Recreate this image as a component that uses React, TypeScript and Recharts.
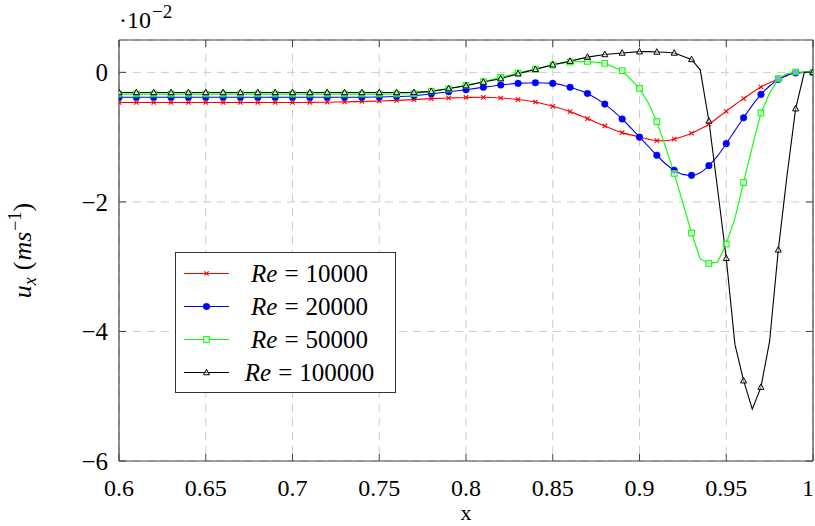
import React from 'react';
import { LineChart, Line, XAxis, YAxis, CartesianGrid, Legend } from 'recharts';

// x positions (0.01 steps up to 0.9, then 0.005 steps)
const xs = [
  0.6, 0.61, 0.62, 0.63, 0.64, 0.65, 0.66, 0.67, 0.68, 0.69,
  0.7, 0.71, 0.72, 0.73, 0.74, 0.75, 0.76, 0.77, 0.78, 0.79,
  0.8, 0.81, 0.82, 0.83, 0.84, 0.85, 0.86, 0.87, 0.88, 0.89,
  0.9, 0.905, 0.91, 0.915, 0.92, 0.925, 0.93, 0.935, 0.94, 0.945,
  0.95, 0.955, 0.96, 0.965, 0.97, 0.975, 0.98, 0.985, 0.99, 0.995, 1.0,
];

// u_x values in units of 1e-2 m/s
const re10000 = [
  -0.465, -0.465, -0.465, -0.465, -0.465, -0.465, -0.465, -0.465, -0.465, -0.465,
  -0.465, -0.463, -0.46, -0.456, -0.45, -0.442, -0.432, -0.42, -0.405, -0.395,
  -0.387, -0.385, -0.395, -0.42, -0.457, -0.524, -0.606, -0.714, -0.827, -0.93,
  -0.997, -1.03, -1.053, -1.055, -1.03, -0.99, -0.94, -0.875, -0.8, -0.7,
  -0.6, -0.5, -0.405, -0.31, -0.226, -0.16, -0.103, -0.05, -0.005, 0.0, 0.0,
];

const re20000 = [
  -0.385, -0.385, -0.385, -0.385, -0.385, -0.385, -0.385, -0.385, -0.385, -0.385,
  -0.385, -0.385, -0.385, -0.385, -0.383, -0.38, -0.373, -0.36, -0.33, -0.3,
  -0.267, -0.23, -0.195, -0.17, -0.16, -0.17, -0.23, -0.325, -0.49, -0.72,
  -1.0, -1.14, -1.28, -1.41, -1.51, -1.575, -1.59, -1.55, -1.44, -1.29,
  -1.1, -0.9, -0.7, -0.51, -0.34, -0.21, -0.108, -0.045, -0.01, 0.0, 0.0,
];

const re50000 = [
  -0.335, -0.335, -0.335, -0.335, -0.335, -0.335, -0.335, -0.335, -0.335, -0.335,
  -0.335, -0.335, -0.335, -0.335, -0.335, -0.335, -0.333, -0.33, -0.29, -0.257,
  -0.2, -0.144, -0.077, -0.01, 0.05, 0.113, 0.16, 0.17, 0.14, 0.026,
  -0.247, -0.47, -0.76, -1.15, -1.56, -2.02, -2.48, -2.88, -2.95, -2.93,
  -2.65, -2.25, -1.7, -1.15, -0.627, -0.32, -0.097, -0.02, 0.005, 0.0, 0.0,
];

const re100000 = [
  -0.31, -0.31, -0.31, -0.31, -0.31, -0.31, -0.31, -0.31, -0.31, -0.31,
  -0.31, -0.31, -0.31, -0.31, -0.31, -0.31, -0.31, -0.308, -0.293, -0.25,
  -0.205, -0.149, -0.097, -0.02, 0.046, 0.119, 0.174, 0.236, 0.277, 0.3,
  0.32, 0.32, 0.315, 0.31, 0.3, 0.25, 0.2, 0.04, -0.75, -1.8,
  -2.87, -4.2, -4.76, -5.2, -4.86, -4.15, -2.74, -1.6, -0.56, 0.0, 0.0,
];

const xTicks = [0.6, 0.65, 0.7, 0.75, 0.8, 0.85, 0.9, 0.95, 1.0];
const xTickLabels = ['0.6', '0.65', '0.7', '0.75', '0.8', '0.85', '0.9', '0.95', '1'];
const yTicks = [-6, -4, -2, 0];
const yTickLabels = ['\u22126', '\u22124', '\u22122', '0'];
const reNumbers = ['10000', '20000', '50000', '100000'];

const data = xs.map((x, i) => ({
  x,
  r1: re10000[i],
  r2: re20000[i],
  r3: re50000[i],
  r4: re100000[i],
}));

const FONT = '"Liberation Serif", "Times New Roman", serif';
const AXIS = '#444';
const TICK_LEN = 7;
const CHART_W = 815;

const findLabel = (ticks: number[], labels: string[], v: number) => {
  const i = ticks.findIndex((t) => Math.abs(t - v) < 1e-9);
  return i >= 0 ? labels[i] : String(v);
};

const XTickBottom = (props: any) => {
  const { x, y, payload } = props;
  const label = findLabel(xTicks, xTickLabels, payload.value);
  // keep the last label inside the picture
  const nearEdge = x + 7 > CHART_W;
  return (
    <g>
      <line x1={x} x2={x} y1={y} y2={y - TICK_LEN} stroke={AXIS} strokeWidth={1} />
      <text
        x={nearEdge ? CHART_W - 1 : x}
        y={y + 35}
        textAnchor={nearEdge ? 'end' : 'middle'}
        fontFamily={FONT}
        fontSize={24}
        fill="#000"
      >
        {label}
      </text>
    </g>
  );
};

const XTickTop = (props: any) => {
  const { x, y } = props;
  return <line x1={x} x2={x} y1={y} y2={y + TICK_LEN} stroke={AXIS} strokeWidth={1} />;
};

const YTickLeft = (props: any) => {
  const { x, y, payload } = props;
  return (
    <g>
      <line x1={x} x2={x + TICK_LEN} y1={y} y2={y} stroke={AXIS} strokeWidth={1} />
      <text x={x - 11} y={y + 9} textAnchor="end" fontFamily={FONT} fontSize={25} fill="#000">
        {findLabel(yTicks, yTickLabels, payload.value)}
      </text>
    </g>
  );
};

const YTickRight = (props: any) => {
  const { x, y } = props;
  return <line x1={x} x2={x - TICK_LEN} y1={y} y2={y} stroke={AXIS} strokeWidth={1} />;
};

type Kind = 'cross' | 'circle' | 'square' | 'triangle';

const Marker = ({ kind, cx, cy }: { kind: Kind; cx: number; cy: number }) => {
  if (kind === 'cross') {
    const s = 2.2;
    return (
      <g stroke="#ff0000" strokeWidth={1.1}>
        <line x1={cx - s} y1={cy - s} x2={cx + s} y2={cy + s} />
        <line x1={cx - s} y1={cy + s} x2={cx + s} y2={cy - s} />
      </g>
    );
  }
  if (kind === 'circle') {
    return <circle cx={cx} cy={cy} r={3.3} fill="#0000ff" stroke="#0000ff" strokeWidth={0.5} />;
  }
  if (kind === 'square') {
    const s = 2.8;
    return (
      <rect x={cx - s} y={cy - s} width={2 * s} height={2 * s} fill="#fff" fillOpacity={0.6} stroke="#00ff00" strokeWidth={1.1} />
    );
  }
  const s = 3.0;
  return (
    <polygon
      points={`${cx},${cy - s * 1.1} ${cx - s},${cy + s * 0.75} ${cx + s},${cy + s * 0.75}`}
      fill="#fff"
      fillOpacity={0.5}
      stroke="#000"
      strokeWidth={1}
    />
  );
};

const makeDot = (kind: Kind) => (props: any) => {
  const { cx, cy, payload, index } = props;
  const v = payload.x * 100;
  if (cx == null || cy == null || Math.abs(v - Math.round(v)) > 1e-6) {
    return <g key={`d-${kind}-${index}`} />;
  }
  return (
    <g key={`d-${kind}-${index}`}>
      <Marker kind={kind} cx={cx} cy={cy} />
    </g>
  );
};

const legendItems: { color: string; kind: Kind; num: string }[] = [
  { color: '#ff0000', kind: 'cross', num: reNumbers[0] },
  { color: '#0000ff', kind: 'circle', num: reNumbers[1] },
  { color: '#00ff00', kind: 'square', num: reNumbers[2] },
  { color: '#000000', kind: 'triangle', num: reNumbers[3] },
];

const LegendBox = () => (
  <div
    style={{
      width: 221,
      height: 141,
      boxSizing: 'border-box',
      border: '1px solid #333',
      background: '#fff',
      paddingTop: 4,
      fontFamily: FONT,
    }}
  >
    {legendItems.map((it) => (
      <div key={it.num} style={{ display: 'flex', alignItems: 'center', height: 33 }}>
        <svg width={54} height={33} style={{ flex: 'none' }}>
          <line x1={8} x2={53} y1={16.5} y2={16.5} stroke={it.color} strokeWidth={1.1} />
          <Marker kind={it.kind} cx={30.5} cy={16.5} />
        </svg>
        <div
          style={{
            flex: 1,
            textAlign: 'center',
            fontSize: 25,
            lineHeight: '33px',
            color: '#000',
            paddingRight: 6,
            whiteSpace: 'nowrap',
          }}
        >
          <span style={{ fontStyle: 'italic' }}>Re</span>
          <span style={{ margin: '0 7px' }}>=</span>
          <span>{it.num}</span>
        </div>
      </div>
    ))}
  </div>
);

const YLabel = (props: any) => {
  const vb = props.viewBox || {};
  const cx = vb.x + vb.width - 88;
  const cy = vb.y + vb.height / 2;
  return (
    <text
      x={cx}
      y={cy}
      transform={`rotate(-90, ${cx}, ${cy})`}
      textAnchor="middle"
      fontFamily={FONT}
      fontSize={26}
      fill="#000"
    >
      <tspan fontStyle="italic">u</tspan>
      <tspan fontStyle="italic" fontSize={18} dy={5}>x</tspan>
      <tspan dy={-5} dx={7}>(</tspan>
      <tspan fontStyle="italic" dx={1}>ms</tspan>
      <tspan fontSize={18} dy={-10} dx={1}>{'\u22121'}</tspan>
      <tspan dy={10}>)</tspan>
    </text>
  );
};

const XLabel = (props: any) => {
  const vb = props.viewBox || {};
  return (
    <text x={vb.x + vb.width / 2} y={vb.y + 59} textAnchor="middle" fontFamily={FONT} fontSize={22} fill="#000">
      x
    </text>
  );
};

export default function App() {
  return (
    <div style={{ position: 'absolute', left: 0, top: 0, width: CHART_W, height: 526, background: '#fff' }}>
      <LineChart
        width={CHART_W}
        height={526}
        data={data}
        margin={{ top: 39, right: 1, bottom: 64, left: 118 }}
      >
        <CartesianGrid stroke="#cccccc" strokeDasharray="8 6" strokeWidth={1} />
        <XAxis
          dataKey="x"
          type="number"
          domain={[0.6, 1.0]}
          ticks={xTicks}
          interval={0}
          allowDataOverflow
          height={1}
          tickSize={0}
          tickMargin={0}
          tickLine={false}
          axisLine={{ stroke: AXIS, strokeWidth: 1.2 }}
          tick={<XTickBottom />}
          label={<XLabel />}
        />
        <XAxis
          xAxisId="top"
          orientation="top"
          dataKey="x"
          type="number"
          domain={[0.6, 1.0]}
          ticks={xTicks}
          interval={0}
          allowDataOverflow
          height={1}
          tickSize={0}
          tickMargin={0}
          tickLine={false}
          axisLine={{ stroke: AXIS, strokeWidth: 1.2 }}
          tick={<XTickTop />}
        />
        <YAxis
          type="number"
          domain={[-6, 0.5]}
          ticks={yTicks}
          interval={0}
          allowDataOverflow
          width={1}
          tickSize={0}
          tickMargin={0}
          tickLine={false}
          axisLine={{ stroke: AXIS, strokeWidth: 1.2 }}
          tick={<YTickLeft />}
          label={<YLabel />}
        />
        <YAxis
          yAxisId="right"
          orientation="right"
          type="number"
          domain={[-6, 0.5]}
          ticks={yTicks}
          interval={0}
          allowDataOverflow
          width={1}
          tickSize={0}
          tickMargin={0}
          tickLine={false}
          axisLine={{ stroke: AXIS, strokeWidth: 1.2 }}
          tick={<YTickRight />}
        />
        <Legend
          layout="horizontal"
          verticalAlign="middle"
          align="center"
          content={<LegendBox />}
          wrapperStyle={{ left: 175, top: 252, width: 221, height: 141 }}
        />
        <Line
          dataKey="r1"
          type="monotone"
          stroke="#ff0000"
          strokeWidth={1.1}
          dot={makeDot('cross')}
          activeDot={false}
          isAnimationActive={false}
        />
        <Line
          dataKey="r2"
          type="monotone"
          stroke="#0000ff"
          strokeWidth={1.1}
          dot={makeDot('circle')}
          activeDot={false}
          isAnimationActive={false}
        />
        <Line
          dataKey="r3"
          type="linear"
          stroke="#00ff00"
          strokeWidth={1.1}
          dot={makeDot('square')}
          activeDot={false}
          isAnimationActive={false}
        />
        <Line
          dataKey="r4"
          type="linear"
          stroke="#000000"
          strokeWidth={1.1}
          dot={makeDot('triangle')}
          activeDot={false}
          isAnimationActive={false}
        />
      </LineChart>
      <div
        style={{
          position: 'absolute',
          left: 119,
          top: 4,
          fontFamily: FONT,
          fontSize: 24,
          lineHeight: '32px',
          color: '#000',
          whiteSpace: 'nowrap',
        }}
      >
        {'\u00b710'}
        <span style={{ fontSize: 19, position: 'relative', top: -10, marginLeft: 1 }}>{'\u22122'}</span>
      </div>
    </div>
  );
}
